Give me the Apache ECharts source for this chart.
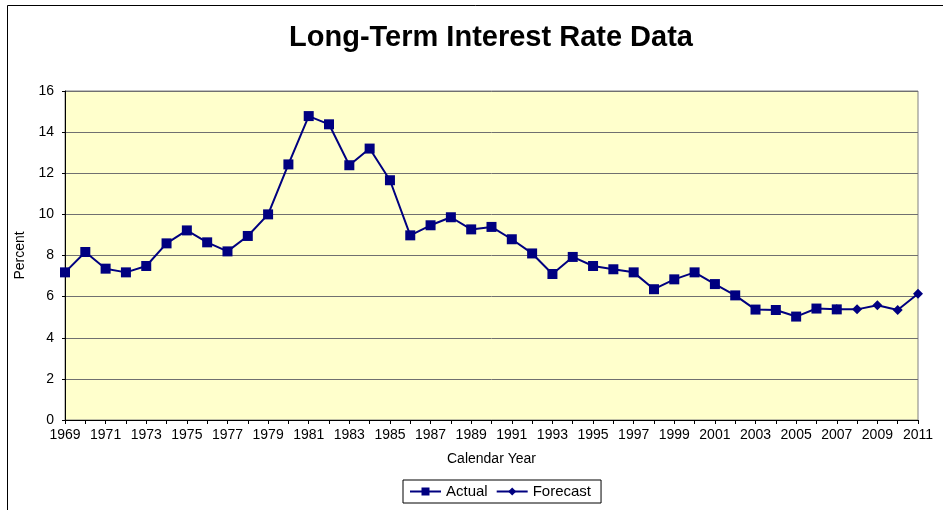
<!DOCTYPE html>
<html><head><meta charset="utf-8">
<script src="https://cdn.jsdelivr.net/npm/echarts@6/dist/echarts.min.js"></script>
<style>html,body{margin:0;padding:0;background:#fff}#c{width:943px;height:510px}</style>
</head><body><div id="c"></div>
<script>
var years = [];
for (var y = 1969; y <= 2011; y++) years.push(String(y));
var actual = [7.18,8.17,7.36,7.18,7.49,8.59,9.22,8.64,8.2,8.95,10.0,12.43,14.78,14.38,12.39,13.2,11.66,8.98,9.47,9.86,9.27,9.39,8.79,8.1,7.1,7.93,7.49,7.33,7.18,6.36,6.84,7.18,6.61,6.06,5.37,5.35,5.03,5.42,5.38,null,null,null,null];
var forecast = [null,null,null,null,null,null,null,null,null,null,null,null,null,null,null,null,null,null,null,null,null,null,null,null,null,null,null,null,null,null,null,null,null,null,null,null,null,null,5.38,5.38,5.58,5.35,6.14];
var yTicks = [0,2,4,6,8,10,12,14,16];
var font = 'Arial, "Liberation Sans", sans-serif';
var chart = echarts.init(document.getElementById('c'));
chart.setOption({
  animation: false,
  backgroundColor: '#fff',
  graphic: [{type:'rect', shape:{x:7.5,y:5.5,width:960,height:540}, style:{fill:'none',stroke:'#000',lineWidth:1}, silent:true, z:-1}],
  title: {text:'Long-Term Interest Rate Data', left: 486, textAlign:'center', top: 18,
    textStyle:{fontFamily:font, fontWeight:'bold', fontSize:29, color:'#000'}},
  grid: {left:65, right:25, top:91, bottom:90, show:true, backgroundColor:'#FFFFCC', borderColor:'#808080', borderWidth:1},
  legend: {bottom: 7, left: 403, itemWidth: 31, itemHeight: 10, itemGap: 8,
    borderColor:'#000', borderWidth:1, padding:[4,10,4,6], borderRadius:0,
    textStyle:{fontFamily:font, fontSize:15, color:'#000'},
    data:['Actual','Forecast']},
  xAxis: {type:'category', data: years, boundaryGap:false,
    name:'Calendar Year', nameLocation:'middle', nameGap:32,
    nameTextStyle:{fontFamily:font, fontSize:14, color:'#000'},
    axisLine:{lineStyle:{color:'#000', width:1}},
    axisTick:{show:true, interval:0, length:4, lineStyle:{color:'#000'}},
    axisLabel:{interval:1, fontFamily:font, fontSize:14, color:'#000', margin:8},
    splitLine:{show:false}},
  yAxis: {type:'value', min:0, max:16, interval:2,
    name:'Percent', nameLocation:'middle', nameGap:33,
    nameTextStyle:{fontFamily:font, fontSize:14, color:'#000'},
    axisLine:{show:true, lineStyle:{color:'#000'}},
    axisTick:{show:true, length:3, lineStyle:{color:'#000'}},
    axisLabel:{fontFamily:font, fontSize:14, color:'#000', margin:11,
      formatter:function(v){return yTicks.indexOf(v)>=0?String(v):'';}},
    splitLine:{show:true, lineStyle:{color:'#707070', width:1}}},
  series: [
    {name:'Actual', type:'line', data: actual, symbol:'rect', symbolSize:10, showAllSymbol:true,
      itemStyle:{color:'#000080'}, lineStyle:{color:'#000080', width:2}, z:3},
    {name:'Forecast', type:'line', data: forecast, symbol:'diamond', symbolSize:10, showAllSymbol:true,
      itemStyle:{color:'#000080'}, lineStyle:{color:'#000080', width:2}, z:2}
  ]
});
</script></body></html>
